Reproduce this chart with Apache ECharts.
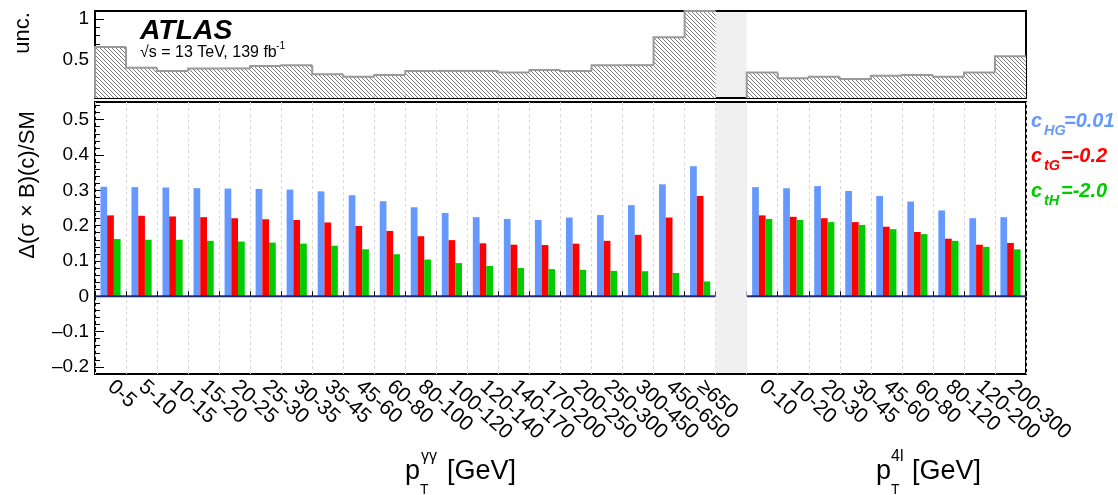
<!DOCTYPE html>
<html><head><meta charset="utf-8">
<script src="https://cdn.jsdelivr.net/npm/echarts@6/dist/echarts.min.js"></script>
<style>html,body{margin:0;padding:0;background:#fff}#c{width:1118px;height:495px}</style>
</head><body><div id="c"></div>
<script>
// ---------- data ----------
const catL = ['0-5','5-10','10-15','15-20','20-25','25-30','30-35','35-45','45-60','60-80','80-100','100-120','120-140','140-170','170-200','200-250','250-300','300-450','450-650','≥650'];
const catR = ['0-10','10-20','20-30','30-45','45-60','60-80','80-120','120-200','200-300'];

const blueL  = [0.310,0.309,0.308,0.306,0.305,0.304,0.302,0.297,0.286,0.269,0.252,0.236,0.224,0.219,0.216,0.223,0.230,0.258,0.317,0.368];
const redL   = [0.229,0.228,0.226,0.224,0.221,0.218,0.216,0.209,0.199,0.185,0.170,0.159,0.150,0.146,0.145,0.149,0.157,0.174,0.223,0.284];
const greenL = [0.162,0.160,0.160,0.157,0.155,0.152,0.149,0.143,0.133,0.119,0.104,0.094,0.086,0.080,0.077,0.075,0.072,0.071,0.066,0.042];
const blueR  = [0.309,0.306,0.312,0.298,0.284,0.268,0.243,0.221,0.224];
const redR   = [0.229,0.225,0.221,0.210,0.197,0.182,0.163,0.146,0.151];
const greenR = [0.219,0.216,0.210,0.202,0.190,0.176,0.157,0.140,0.133];

const uncL = [0.66,0.41,0.37,0.40,0.40,0.43,0.44,0.33,0.30,0.32,0.37,0.37,0.37,0.35,0.38,0.37,0.44,0.44,0.78,1.25];
const uncR = [0.35,0.28,0.30,0.27,0.31,0.32,0.30,0.35,0.55];

const mainTicks = [-0.2,-0.1,0,0.1,0.2,0.3,0.4,0.5];
const uncTicks = [0.5,1];
const mainRange = [-0.22,0.55];
const uncRange = [0.04,1.1];

const names = ['c_HG=0.01','c_tG=-0.2','c_tH=-2.0'];
const colors = ['#6699ff','#ff0000','#00cc00'];

// ---------- build ----------
const FONT = "'Liberation Sans', Arial, Helvetica, sans-serif";
const gapIdx = catL.length;
const cats = catL.concat([''], catR);
const join = (a, b) => a.concat([null], b);
const blue = join(blueL, blueR), red = join(redL, redR), green = join(greenL, greenR);
const unc = join(uncL, uncR);

const minorMain = [], minorUnc = [];
for (let k = -11; k <= 27; k++) { const v = Math.round(k * 2) / 100; if (Math.abs(Math.round(v * 10) - v * 10) > 1e-6) minorMain.push(v); }
for (let k = 1; k <= 11; k++) { const v = k / 10; if (k !== 5 && k !== 10) minorUnc.push(v); }

// hatch pattern
const hc = document.createElement('canvas');
hc.width = 4; hc.height = 4;
const hx = hc.getContext('2d');
hx.fillStyle = '#fff'; hx.fillRect(0, 0, 4, 4);
hx.strokeStyle = '#7a7a7a'; hx.lineWidth = 1;
hx.beginPath();
hx.moveTo(-1, -1); hx.lineTo(5, 5);
hx.moveTo(-1, 3); hx.lineTo(1, 5);
hx.moveTo(3, -1); hx.lineTo(5, 1);
hx.stroke();
const hatch = { image: hc, repeat: 'repeat' };

const histData = [];
unc.forEach((v, i) => { if (v != null) histData.push([i, v, (i > 0 && unc[i - 1] != null) ? unc[i - 1] : null]); });
const zeroData = [];
cats.forEach((c, i) => { if (i !== gapIdx) zeroData.push([i, 0]); });

function renderHist(params, api) {
  const i = api.value(0), v = api.value(1), pv = api.value(2);
  const cs = params.coordSys;
  const bw = api.size([1, 0])[0];
  const c = api.coord([i, v]);
  const x0 = c[0] - bw / 2, x1 = c[0] + bw / 2;
  const yb = cs.y + cs.height;
  const yt = Math.max(c[1], cs.y);
  const ypv = (pv == null || isNaN(pv)) ? yb : Math.max(api.coord([i, pv])[1], cs.y);
  return { type: 'group', children: [
    { type: 'rect', shape: { x: x0, y: yt, width: bw, height: yb - yt }, style: { fill: hatch } },
    { type: 'polyline', shape: { points: [[x0, ypv], [x0, yt], [x1, yt]] }, style: { stroke: '#999', lineWidth: 2, fill: null } }
  ]};
}
function renderGap(params, api) {
  const cs = params.coordSys;
  const bw = api.size([1, 0])[0];
  const c = api.coord([api.value(0), 0]);
  return { type: 'rect', shape: { x: c[0] - bw / 2, y: cs.y + 1, width: bw, height: cs.height - 2 }, style: { fill: '#f0f0f0' } };
}
function renderZero(params, api) {
  const bw = api.size([1, 0])[0];
  const c = api.coord([api.value(0), api.value(1)]);
  return { type: 'line', shape: { x1: c[0] - bw / 2, y1: c[1], x2: c[0] + bw / 2, y2: c[1] }, style: { stroke: '#1c2870', lineWidth: 2 } };
}

const fmtMain = v => v === 0 ? '0' : (v < 0 ? '\u2013' : '') + Math.abs(v).toFixed(1);
const fmtUnc = v => v === 1 ? '1' : v.toFixed(1);

const gridL = 95, gridW = 931;
function yAx(gi, range, ticks, fmt, major) {
  return {
    type: 'value', gridIndex: gi, min: range[0], max: range[1], position: 'left',
    axisLine: { show: false }, splitLine: { show: false },
    axisTick: { show: true, inside: true, length: major ? 9 : 5, customValues: ticks, lineStyle: { color: '#000', width: 1 } },
    axisLabel: major ? { show: true, customValues: ticks, formatter: fmt, fontSize: 19, color: '#000', fontFamily: FONT, margin: 6 } : { show: false }
  };
}

const txt = (x, y, text, size, color, opts) => Object.assign({
  type: 'text', x, y, silent: true,
  style: Object.assign({ text, fontSize: size, fill: color || '#000', fontFamily: FONT, verticalAlign: 'middle', align: 'left' }, (opts && opts.style) || {})
}, (opts && opts.el) || {});
const BI = { style: { fontWeight: 'bold', fontStyle: 'italic' } };
const mid = (base, size) => base - 0.346 * size;

const graphics = [
  txt(140, mid(40.5, 27), 'ATLAS', 27, '#000', { style: { fontWeight: 'bold', fontStyle: 'italic' }, el: { scaleX: 1.05 } }),
  txt(140, mid(58, 16), '\u221As = 13 TeV, 139 fb', 16),
  txt(276, 46.5, '-1', 10.5),
  txt(23, 33, 'unc.', 22, '#000', { style: { align: 'center' }, el: { rotation: Math.PI / 2 } }),
  txt(28, 185, '\u0394(\u03c3 \u00d7 B)(c)/SM', 22, '#000', { style: { align: 'center' }, el: { rotation: Math.PI / 2 } }),
  // x titles
  txt(405, mid(481, 27), 'p', 27),
  txt(420, 490, 'T', 14),
  txt(421, 457, '\u03b3\u03b3', 16),
  txt(447, mid(481, 27), '[GeV]', 27),
  txt(876, mid(481, 27), 'p', 27),
  txt(891, 490, 'T', 14),
  txt(891, 457, '4l', 16),
  txt(912, mid(481, 27), '[GeV]', 27)
];
// legend
const legBase = [128.5, 163.5, 198.5];
const legSub = ['HG', 'tG', 'tH'];
const legVal = ['=0.01', '=-0.2', '=-2.0'];
const legValX = [1064, 1061, 1061];
legBase.forEach((b, k) => {
  graphics.push(txt(1031, mid(b, 20), 'c', 20, colors[k], BI));
  graphics.push(txt(1044, mid(b + 7.5, 14.5), legSub[k], 14.5, colors[k], BI));
  graphics.push(txt(legValX[k], mid(b, 20), legVal[k], 20, colors[k], BI));
});

const option = {
  animation: false,
  backgroundColor: '#fff',
  textStyle: { fontFamily: FONT },
  grid: [
    { left: gridL, width: gridW, top: 11, height: 87, show: true, borderColor: '#000', borderWidth: 2, containLabel: false },
    { left: gridL, width: gridW, top: 102, height: 272, show: true, borderColor: '#000', borderWidth: 2, containLabel: false }
  ],
  xAxis: [
    { type: 'category', gridIndex: 0, data: cats, boundaryGap: true,
      axisLine: { show: false }, axisLabel: { show: false },
      axisTick: { show: true, inside: true, length: 4, interval: 0, lineStyle: { color: '#000' } },
      splitLine: { show: false } },
    { type: 'category', gridIndex: 1, data: cats, boundaryGap: true,
      axisLine: { show: false },
      axisTick: { show: true, inside: true, length: 5, interval: 0, lineStyle: { color: '#000' } },
      axisLabel: { show: true, interval: 0, rotate: -42, fontSize: 21, color: '#000', fontFamily: FONT, margin: 10 },
      splitLine: { show: true, interval: 0, lineStyle: { color: '#d6d6d6', type: [3, 3], width: 1 } } }
  ],
  yAxis: [
    yAx(0, uncRange, uncTicks, fmtUnc, true),
    yAx(1, mainRange, mainTicks, fmtMain, true),
    yAx(0, uncRange, minorUnc, null, false),
    yAx(1, mainRange, minorMain, null, false)
  ],
  series: [
    { type: 'custom', xAxisIndex: 0, yAxisIndex: 0, data: [[gapIdx, 0]], renderItem: renderGap, z: 1, silent: true },
    { type: 'custom', xAxisIndex: 0, yAxisIndex: 0, data: histData, encode: { x: 0, y: 1 }, renderItem: renderHist, z: 2, silent: true },
    { type: 'bar', name: names[0], xAxisIndex: 1, yAxisIndex: 1, data: blue, itemStyle: { color: colors[0] }, barGap: '0%', barCategoryGap: '35%', z: 2 },
    { type: 'bar', name: names[1], xAxisIndex: 1, yAxisIndex: 1, data: red, itemStyle: { color: colors[1] }, barGap: '0%', barCategoryGap: '35%', z: 2 },
    { type: 'bar', name: names[2], xAxisIndex: 1, yAxisIndex: 1, data: green, itemStyle: { color: colors[2] }, barGap: '0%', barCategoryGap: '35%', z: 2 },
    { type: 'custom', xAxisIndex: 1, yAxisIndex: 1, data: zeroData, encode: { x: 0, y: 1 }, renderItem: renderZero, z: 4, silent: true },
    { type: 'custom', xAxisIndex: 1, yAxisIndex: 1, data: [[gapIdx, 0]], renderItem: renderGap, z: 5, silent: true }
  ],
  graphic: { elements: graphics }
};
const chart = echarts.init(document.getElementById('c'), null, { renderer: 'canvas' });
chart.setOption(option);
</script>
</body></html>
